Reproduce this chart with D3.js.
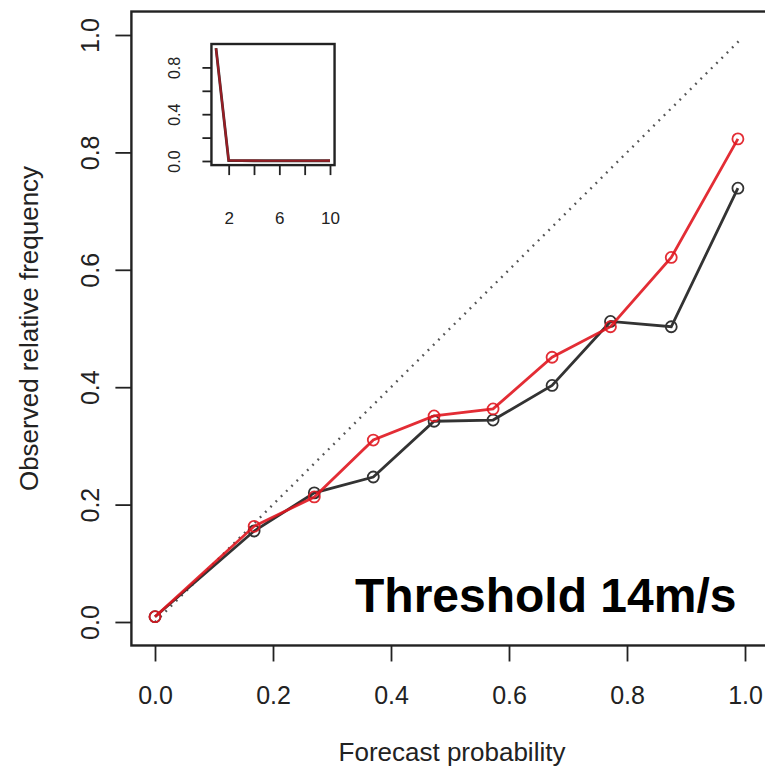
<!DOCTYPE html>
<html>
<head>
<meta charset="utf-8">
<script src="https://cdn.jsdelivr.net/npm/d3@7"></script>
<style>
  body { margin: 0; background: #fff; }
  svg text { font-family: "Liberation Sans", Arial, Helvetica, sans-serif; fill: #222; }
</style>
</head>
<body>
<svg id="chart" width="765" height="774"></svg>
<script>
// forecast probability bins (x) and observed relative frequency (y)
const probs = [0.0, 0.168, 0.27, 0.37, 0.473, 0.573, 0.673, 0.772, 0.875, 0.988];
const obsBlack = [0.009, 0.155, 0.220, 0.247, 0.342, 0.344, 0.403, 0.512, 0.503, 0.739];
const obsRed = [0.009, 0.163, 0.213, 0.310, 0.351, 0.363, 0.451, 0.503, 0.621, 0.823];

// inset: sharpness histogram (relative counts per bin)
const insetBins = [1, 2, 3, 4, 5, 6, 7, 8, 9, 10];
const insetBlack = [0.965, 0.004, 0.003, 0.002, 0.002, 0.002, 0.002, 0.002, 0.002, 0.002];
const insetRed = [0.962, 0.006, 0.004, 0.003, 0.002, 0.002, 0.002, 0.002, 0.002, 0.003];

const ticks = [0, 0.2, 0.4, 0.6, 0.8, 1.0];
const insetXTicks = [2, 4, 6, 8, 10];
const insetYTicks = [0, 0.2, 0.4, 0.6, 0.8];
const insetYLabels = [0, 0.4, 0.8];

const svg = d3.select("#chart");
const fmt = d3.format(".1f");

const x = d3.scaleLinear().domain([0, 1]).range([155, 745]);
const y = d3.scaleLinear().domain([0, 1]).range([622, 35]);

const boxL = x(-0.04), boxR = x(1.04), boxT = y(1.04), boxB = y(-0.04);

// diagonal reference
svg.append("line")
  .attr("x1", x(0)).attr("y1", y(0))
  .attr("x2", x(0.99)).attr("y2", y(0.99))
  .attr("stroke", "#555").attr("stroke-width", 2.4)
  .attr("stroke-dasharray", "1.8,5.6");

function drawSeries(g, xs, ys, sx, sy, color, lw, r, opacity) {
  const pts = xs.map((v, i) => [v, ys[i]]);
  const ln = d3.line().x(d => sx(d[0])).y(d => sy(d[1]));
  g.append("path").datum(pts)
    .attr("d", ln).attr("fill", "none")
    .attr("stroke", color).attr("stroke-width", lw)
    .attr("stroke-opacity", opacity);
  if (r > 0) {
    g.selectAll(null).data(pts).enter().append("circle")
      .attr("cx", d => sx(d[0])).attr("cy", d => sy(d[1]))
      .attr("r", r).attr("fill", "none")
      .attr("stroke", color).attr("stroke-width", 1.8)
      .attr("stroke-opacity", opacity);
  }
}

const main = svg.append("g");
drawSeries(main, probs, obsBlack, x, y, "#333", 2.8, 5.5, 1);
drawSeries(main, probs, obsRed, x, y, "#e0161f", 2.8, 5.5, 0.9);

// box
svg.append("rect")
  .attr("x", boxL).attr("y", boxT)
  .attr("width", boxR - boxL).attr("height", boxB - boxT)
  .attr("fill", "none").attr("stroke", "#222").attr("stroke-width", 2.4);

// axes
const xAxis = svg.append("g")
  .attr("transform", `translate(0,${boxB})`)
  .call(d3.axisBottom(x).tickValues(ticks).tickSize(16).tickFormat(fmt));
xAxis.select(".domain").remove();
xAxis.selectAll("line").attr("stroke", "#222").attr("stroke-width", 1.8);
xAxis.selectAll("text")
  .attr("y", 704 - boxB).attr("dy", null)
  .attr("font-size", 25).attr("fill", "#222");

const yAxis = svg.append("g")
  .attr("transform", `translate(${boxL},0)`)
  .call(d3.axisLeft(y).tickValues(ticks).tickSize(16).tickFormat(fmt));
yAxis.select(".domain").remove();
yAxis.selectAll("line").attr("stroke", "#222").attr("stroke-width", 1.8);
yAxis.selectAll("text")
  .attr("x", 0).attr("dy", null)
  .attr("transform", `translate(${99 - boxL},0) rotate(-90)`)
  .attr("text-anchor", "middle")
  .attr("font-size", 25).attr("fill", "#222");

svg.append("text")
  .attr("x", (boxL + boxR) / 2 + 2).attr("y", 761)
  .attr("text-anchor", "middle").attr("font-size", 26)
  .text("Forecast probability");

svg.append("text")
  .attr("transform", `translate(38,${(boxT + boxB) / 2}) rotate(-90)`)
  .attr("text-anchor", "middle").attr("font-size", 26)
  .text("Observed relative frequency");

svg.append("text")
  .attr("x", 355).attr("y", 612)
  .attr("font-size", 48).attr("font-weight", "bold")
  .style("fill", "#000")
  .text("Threshold 14m/s");

// inset
const ix = d3.scaleLinear().domain([1, 10]).range([216, 330]);
const iy = d3.scaleLinear().domain([0, 1]).range([161, 44]);
const il = ix(0.64), ir = ix(10.36), it = iy(1.0), ib = iy(-0.035);

const inset = svg.append("g");
inset.append("rect")
  .attr("x", il).attr("y", it).attr("width", ir - il).attr("height", ib - it)
  .attr("fill", "#fff");
drawSeries(inset, insetBins, insetBlack, ix, iy, "#333", 2.8, 0, 1);
drawSeries(inset, insetBins, insetRed, ix, iy, "#b01820", 2.2, 0, 0.8);
inset.append("rect")
  .attr("x", il).attr("y", it).attr("width", ir - il).attr("height", ib - it)
  .attr("fill", "none").attr("stroke", "#222").attr("stroke-width", 2.4);

const ixAxis = inset.append("g")
  .attr("transform", `translate(0,${ib})`)
  .call(d3.axisBottom(ix).tickValues(insetXTicks).tickSize(10)
    .tickFormat(d => [2, 6, 10].includes(d) ? d : ""));
ixAxis.select(".domain").remove();
ixAxis.selectAll("line").attr("stroke", "#222").attr("stroke-width", 1.8);
ixAxis.selectAll("text")
  .attr("y", 224 - ib).attr("dy", null)
  .attr("font-size", 17).attr("fill", "#222");

const iyAxis = inset.append("g")
  .attr("transform", `translate(${il},0)`)
  .call(d3.axisLeft(iy).tickValues(insetYTicks).tickSize(9)
    .tickFormat(d => insetYLabels.includes(d) ? fmt(d) : ""));
iyAxis.select(".domain").remove();
iyAxis.selectAll("line").attr("stroke", "#222").attr("stroke-width", 1.8);
iyAxis.selectAll("text")
  .attr("x", 0).attr("dy", null)
  .attr("transform", `translate(${180 - il},0) rotate(-90)`)
  .attr("text-anchor", "middle")
  .attr("font-size", 16).attr("fill", "#222");
</script>
</body>
</html>
